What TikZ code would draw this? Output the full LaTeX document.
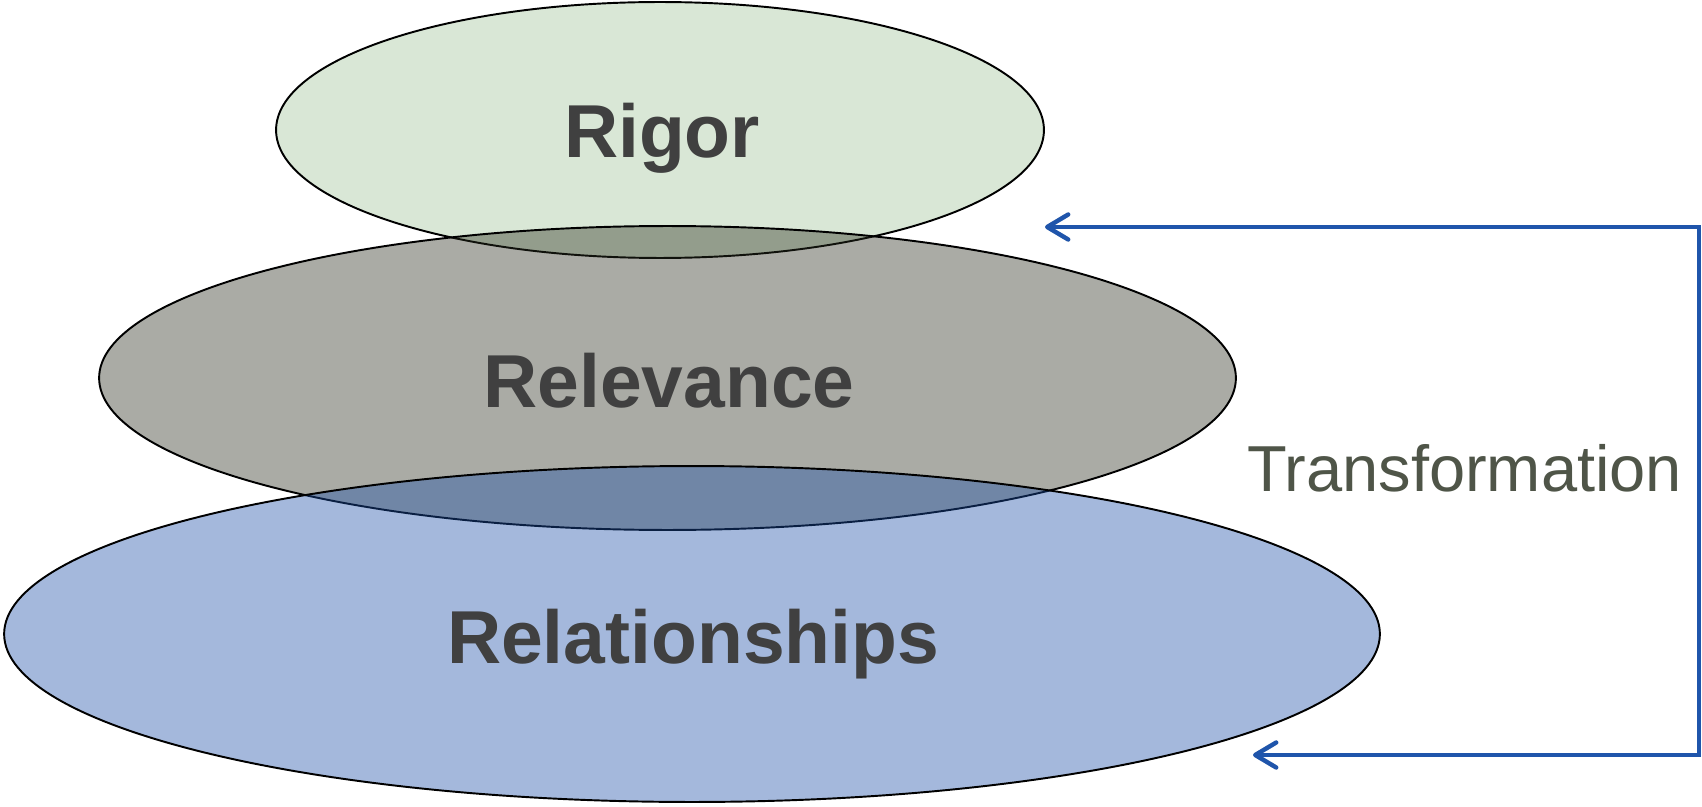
\documentclass[tikz,border=0pt]{standalone}
\usepackage{fontspec}
\setmainfont{Liberation Sans}
\usetikzlibrary{shapes.geometric,arrows.meta}
\definecolor{rigorC}{RGB}{160,195,152}
\definecolor{relevC}{RGB}{42,45,30}
\definecolor{relatC}{RGB}{27,78,167}
\definecolor{labelC}{RGB}{64,64,64}
\definecolor{transC}{RGB}{79,85,72}
\definecolor{arrowC}{RGB}{31,85,171}
\tikzset{
  layer/.style={ellipse, draw=black, line width=1.1pt, fill opacity=0.4, draw opacity=1, inner sep=0pt, outer sep=0pt},
  biglabel/.style={font=\bfseries\fontsize{42.7}{50}\selectfont, text=labelC, anchor=base, inner sep=0pt},
  sidelabel/.style={font=\fontsize{37}{44}\selectfont, text=transC, anchor=base west, inner sep=0pt},
  loop/.style={draw=arrowC, line width=2.5pt, line join=miter,
    {Straight Barb[length=0.42cm,width=0.5cm,round]}-{Straight Barb[length=0.42cm,width=0.5cm,round]}},
  loopshadow/.style={draw=black!25, opacity=0.45, line width=2.5pt,
    {Straight Barb[length=0.42cm,width=0.5cm,round]}-{Straight Barb[length=0.42cm,width=0.5cm,round]}}
}
\begin{document}
\begin{tikzpicture}[x=0.02cm,y=-0.02cm]
\useasboundingbox (0,0) rectangle (1702,807);
% layers
\node[layer, fill=rigorC, minimum width=15.36cm, minimum height=5.12cm] (rigorE) at (660,130) {};
\node[layer, fill=relevC, minimum width=22.74cm, minimum height=6.08cm] (relevE) at (667.5,378) {};
\node[layer, fill=relatC, minimum width=27.52cm, minimum height=6.72cm] (relatE) at (692,634) {};
% labels
\node[biglabel] (rigorT) at (662,158) {Rigor};
\node[biglabel] (relevT) at (669,407) {Relevance};
\node[biglabel] (relatT) at (693,663) {Relationships};
\node[sidelabel] (transT) at (1247,491) {Transformation};
% feedback arrow
\coordinate (topTip) at (1045,227);
\coordinate (cornerA) at (1699,227);
\coordinate (cornerB) at (1699,755);
\coordinate (botTip) at (1253,755);
\begin{scope}[shift={(2,4)}]
\draw[loopshadow] (topTip) -- (cornerA) -- (cornerB) -- (botTip);
\end{scope}
\draw[loop] (topTip) -- (cornerA) -- (cornerB) -- (botTip);
\end{tikzpicture}
\end{document}
